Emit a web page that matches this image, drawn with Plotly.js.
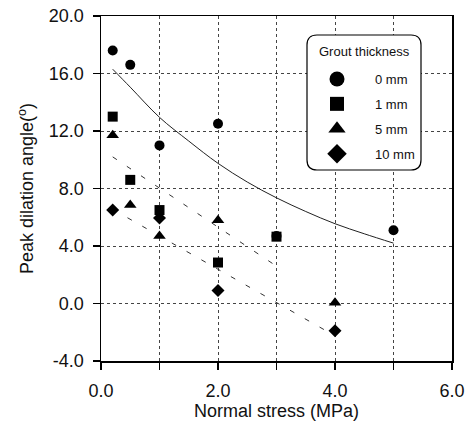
<!DOCTYPE html>
<html>
<head>
<meta charset="utf-8">
<script src="https://cdn.plot.ly/plotly-3.0.1.min.js"></script>
<style>
  html, body { margin: 0; padding: 0; background: #fff; }
  #chart { width: 469px; height: 423px; }
</style>
</head>
<body>
<div id="chart"></div>
<script>
// ---- data ----
const seriesNames = ['0 mm', '1 mm', '5 mm', '10 mm'];
const legendTitle = 'Grout thickness';

const x0mm = [0.2, 0.5, 1.0, 2.0, 3.0, 5.0];
const y0mm = [17.6, 16.6, 11.0, 12.5, 4.7, 5.1];

const x1mm = [0.2, 0.5, 1.0, 2.0, 3.0];
const y1mm = [13.0, 8.6, 6.5, 2.85, 4.65];

const x5mm = [0.2, 0.5, 1.0, 2.0, 4.0];
const y5mm = [11.7, 6.85, 4.7, 5.8, 0.05];

const x10mm = [0.2, 1.0, 2.0, 4.0];
const y10mm = [6.5, 5.95, 0.9, -1.9];

// solid fitted curve
const xCurve = [0.2, 0.5, 1.0, 1.5, 2.0, 2.5, 3.0, 3.5, 4.0, 4.5, 5.0];
const yCurve = [16.3, 15.05, 12.95, 11.3, 9.75, 8.45, 7.35, 6.4, 5.55, 4.85, 4.2];

// dashed fitted lines
const xDashUpper = [0.2, 3.0];
const yDashUpper = [10.2, 2.6];
const xDashLower = [0.2, 4.0];
const yDashLower = [6.55, -2.25];

// axis ticks
const xTickVals = [0, 2, 4, 6];
const xTickText = ['0.0', '2.0', '4.0', '6.0'];
const xMinorVals = [1, 3, 5];
const yTickVals = [-4, 0, 4, 8, 12, 16, 20];
const yTickText = ['-4.0', '0.0', '4.0', '8.0', '12.0', '16.0', '20.0'];

const symbols = ['circle', 'square', 'triangle-up', 'diamond'];
const plotSizes = [10, 10, 11, 10];
const legendSizes = [15, 14, 15, 15];
const xs = [x0mm, x1mm, x5mm, x10mm];
const ys = [y0mm, y1mm, y5mm, y10mm];

const traces = [];
traces.push({
  x: xCurve, y: yCurve, type: 'scatter', mode: 'lines',
  line: { color: '#222', width: 1, shape: 'spline' },
  showlegend: false, hoverinfo: 'skip'
});
traces.push({
  x: xDashUpper, y: yDashUpper, type: 'scatter', mode: 'lines',
  line: { color: '#333', width: 1, dash: '5px,12px' },
  showlegend: false, hoverinfo: 'skip'
});
traces.push({
  x: xDashLower, y: yDashLower, type: 'scatter', mode: 'lines',
  line: { color: '#333', width: 1, dash: '5px,12px' },
  showlegend: false, hoverinfo: 'skip'
});
for (let i = 0; i < 4; i++) {
  traces.push({
    x: xs[i], y: ys[i], type: 'scatter', mode: 'markers', name: seriesNames[i],
    marker: { symbol: symbols[i], size: plotSizes[i], color: '#000' },
    showlegend: false
  });
}
// legend entries (larger symbols, as in the reference legend)
for (let i = 0; i < 4; i++) {
  traces.push({
    x: [null], y: [null], type: 'scatter', mode: 'markers', name: seriesNames[i],
    legendgroup: 'g' + i,
    marker: { symbol: symbols[i], size: legendSizes[i], color: '#000' },
    showlegend: true
  });
}

const font = { family: 'Liberation Sans, Arial, sans-serif', color: '#111' };

const L = 101, R = 452, T = 16, B = 361;
const W = R - L, H = B - T;
function px(xp) { return (xp - L) / W; }
function py(yp) { return 1 - (yp - T) / H; }
// rounded legend frame
const bx0 = px(307), bx1 = px(421), by0 = py(170), by1 = py(35);
const rx = 10 / W, ry = 10 / H;
const framePath =
  `M ${bx0 + rx},${by1} L ${bx1 - rx},${by1} Q ${bx1},${by1} ${bx1},${by1 - ry} ` +
  `L ${bx1},${by0 + ry} Q ${bx1},${by0} ${bx1 - rx},${by0} ` +
  `L ${bx0 + rx},${by0} Q ${bx0},${by0} ${bx0},${by0 + ry} ` +
  `L ${bx0},${by1 - ry} Q ${bx0},${by1} ${bx0 + rx},${by1} Z`;

const gridStyle = { showgrid: true, gridcolor: '#444', gridwidth: 1, griddash: '3px,3px' };

const layout = {
  width: 469, height: 423,
  margin: { l: L, r: 469 - R, t: T, b: 423 - B },
  paper_bgcolor: '#fff', plot_bgcolor: '#fff',
  font: Object.assign({ size: 18 }, font),
  showlegend: true,
  xaxis: Object.assign({
    range: [0, 6], tickmode: 'array', tickvals: xTickVals, ticktext: xTickText,
    ticks: 'outside', ticklen: 7, tickwidth: 1.5, tickcolor: '#000',
    ticklabelstandoff: 6,
    minor: Object.assign({ tickmode: 'array', tickvals: xMinorVals, ticks: 'outside',
      ticklen: 7, tickwidth: 1.5, tickcolor: '#000' }, gridStyle),
    showline: true, linecolor: '#000', linewidth: 1.5, mirror: true,
    zeroline: false, automargin: false,
    tickfont: Object.assign({ size: 18 }, font),
    title: { text: 'Normal stress (MPa)', font: Object.assign({ size: 18 }, font), standoff: 2 }
  }, gridStyle),
  yaxis: Object.assign({
    range: [-4, 20], tickmode: 'array', tickvals: yTickVals, ticktext: yTickText,
    ticks: 'outside', ticklen: 7, tickwidth: 1.5, tickcolor: '#000',
    ticklabelstandoff: 5,
    showline: true, linecolor: '#000', linewidth: 1.5, mirror: true,
    zeroline: false, automargin: false,
    tickfont: Object.assign({ size: 18 }, font),
    title: { text: 'Peak dilation angle(<sup>o</sup>)', font: Object.assign({ size: 18 }, font), standoff: 10 }
  }, gridStyle),
  legend: {
    x: px(299), y: py(64), xanchor: 'left', yanchor: 'top',
    bgcolor: 'rgba(0,0,0,0)', borderwidth: 0,
    font: Object.assign({ size: 13 }, font),
    itemwidth: 66, tracegroupgap: 5, itemclick: false
  },
  annotations: [{
    xref: 'paper', yref: 'paper', x: px(364), y: py(52), xanchor: 'center', yanchor: 'middle',
    text: legendTitle, showarrow: false, font: Object.assign({ size: 13 }, font)
  }],
  shapes: [{
    type: 'path', xref: 'paper', yref: 'paper', path: framePath,
    line: { color: '#000', width: 1.2 }, fillcolor: '#fff', layer: 'above'
  }]
};

Plotly.newPlot('chart', traces, layout, { displayModeBar: false, staticPlot: true });
</script>
</body>
</html>
